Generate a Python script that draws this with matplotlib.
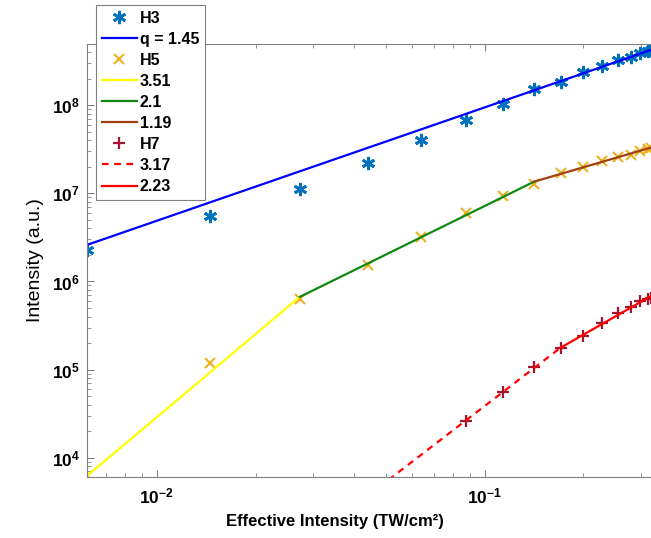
import matplotlib
matplotlib.use("Agg")
import matplotlib.pyplot as plt
from matplotlib.ticker import LogLocator, FixedLocator, FixedFormatter, NullFormatter

plt.rcParams['font.family'] = ['Liberation Sans', 'DejaVu Sans']
plt.rcParams['mathtext.fontset'] = 'custom'
plt.rcParams['mathtext.rm'] = 'Liberation Sans'
plt.rcParams['mathtext.bf'] = 'Liberation Sans:bold'

# effective intensity (TW/cm^2)
x_h3 = [0.00612, 0.01455, 0.02726, 0.04402, 0.06397, 0.08739, 0.1138, 0.1416,
        0.1707, 0.1994, 0.228, 0.2551, 0.2785, 0.2967, 0.3147, 0.322]
y_h3 = [2.28e6, 5.54e6, 1.12e7, 2.21e7, 4.04e7, 6.81e7, 1.035e8, 1.52e8,
        1.84e8, 2.39e8, 2.82e8, 3.27e8, 3.56e8, 3.89e8, 4.10e8, 4.25e8]

x_h5 = x_h3
y_h5 = [6.2e3, 1.19e5, 6.33e5, 1.54e6, 3.2e6, 6.04e6, 9.42e6, 1.28e7,
        1.69e7, 2.01e7, 2.31e7, 2.61e7, 2.75e7, 3.03e7, 3.17e7, 3.25e7]

x_h7 = x_h3[5:]
y_h7 = [2.61e4, 5.52e4, 1.08e5, 1.75e5, 2.43e5, 3.41e5, 4.35e5, 5.09e5,
        6.05e5, 6.32e5, 6.55e5]

# fitted power-law segments (end points)
fit_h3_x = [0.00612, 0.326]
fit_h3_y = [2.6e6, 4.33e8]
fit_h5a_x = [0.00612, 0.02726]
fit_h5a_y = [6.2e3, 6.67e5]
fit_h5b_x = [0.02726, 0.1416]
fit_h5b_y = [6.67e5, 1.36e7]
fit_h5c_x = [0.1416, 0.326]
fit_h5c_y = [1.36e7, 3.36e7]
fit_h7a_x = [0.0475, 0.1703]
fit_h7a_y = [4.6e3, 1.77e5]
fit_h7b_x = [0.1703, 0.326]
fit_h7b_y = [1.77e5, 7.03e5]

W, H = 651, 538
fig = plt.figure(figsize=(W / 100, H / 100), dpi=100)
ax = fig.add_axes([87 / W, 1 - 476.7 / H, 566 / W, (476.7 - 44) / H])

ax.plot(x_h3, y_h3, linestyle='none', marker=(6, 2, 0), markersize=9.5,
        markeredgewidth=2, color='#0072BD', label='H3')
ax.plot(fit_h3_x, fit_h3_y, color='#0000FF', lw=1.6, label='q = 1.45')
ax.plot(x_h5, y_h5, linestyle='none', marker='x', markersize=7,
        markeredgewidth=1.5, color='#EDB120', label='H5')
ax.plot(fit_h5a_x, fit_h5a_y, color='#FFFF00', lw=1.6, label='3.51')
ax.plot(fit_h5b_x, fit_h5b_y, color='#118811', lw=1.6, label='2.1')
ax.plot(fit_h5c_x, fit_h5c_y, color='#A0400F', lw=1.6, label='1.19')
ax.plot(x_h7, y_h7, linestyle='none', marker='+', markersize=9,
        markeredgewidth=1.6, color='#A2142F', label='H7')
ax.plot(fit_h7a_x, fit_h7a_y, color='#FF0000', lw=1.6, linestyle=(0, (3, 2.5)), label='3.17')
ax.plot(fit_h7b_x, fit_h7b_y, color='#FF0000', lw=1.6, label='2.23')

ax.set_xscale('log')
ax.set_yscale('log')
ax.set_xlim(0.00612, 0.326)
ax.set_ylim(6.08e3, 4.96e8)

ax.xaxis.set_major_locator(FixedLocator([1e-2, 1e-1]))
ax.xaxis.set_major_formatter(FixedFormatter([r'$\mathbf{10^{-2}}$', r'$\mathbf{10^{-1}}$']))
ax.xaxis.set_minor_locator(LogLocator(base=10, subs=range(2, 10), numticks=20))
ax.xaxis.set_minor_formatter(NullFormatter())
ax.yaxis.set_major_locator(FixedLocator([1e4, 1e5, 1e6, 1e7, 1e8]))
ax.yaxis.set_major_formatter(FixedFormatter([r'$\mathbf{10^{%d}}$' % k for k in range(4, 9)]))
ax.yaxis.set_minor_locator(LogLocator(base=10, subs=range(2, 10), numticks=20))
ax.yaxis.set_minor_formatter(NullFormatter())

ax.tick_params(which='both', direction='in', top=True, right=False,
               color='#808080', labelsize=12.5, pad=5)
ax.tick_params(axis='x', pad=7)
ax.tick_params(which='major', length=5, width=0.8)
ax.tick_params(which='minor', length=3, width=0.6)
for side in ['left', 'bottom', 'top', 'right']:
    ax.spines[side].set_color('#808080')

ax.set_xlabel('Effective Intensity (TW/cm²)', fontsize=12, fontweight='bold')
ax.xaxis.set_label_coords((335 - 87) / 566, -0.086)
ax.set_ylabel('Intensity (a.u.)', fontsize=14, labelpad=6)

leg = ax.legend(loc='upper left', bbox_to_anchor=(96 / W, 1 - 5 / H),
                bbox_transform=fig.transFigure, borderaxespad=0,
                fancybox=False, framealpha=1, edgecolor='#808080',
                prop={'size': 11.5, 'weight': 'bold'}, handlelength=2.2,
                handletextpad=0.2, labelspacing=0.38, borderpad=0.35)
leg.get_frame().set_linewidth(0.8)

fig.savefig('out.png', dpi=100)
